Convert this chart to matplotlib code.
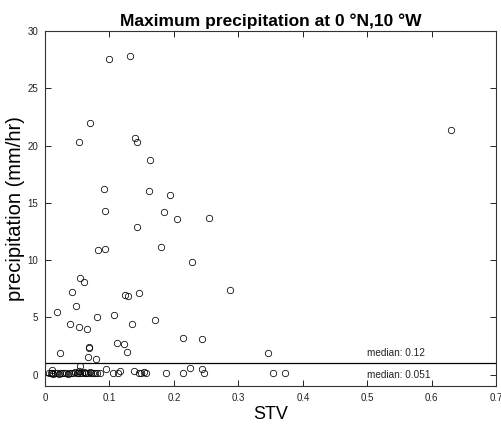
import matplotlib.pyplot as plt

# pontos acima do limiar (precip > 1 mm/hr)
stv_alto = [0.099, 0.132, 0.070, 0.053, 0.139, 0.143, 0.163, 0.091, 0.162, 0.194,
            0.093, 0.184, 0.204, 0.255, 0.629, 0.142, 0.083, 0.093, 0.180, 0.228,
            0.055, 0.061, 0.287, 0.042, 0.124, 0.129, 0.146, 0.048, 0.018, 0.081,
            0.107, 0.170, 0.039, 0.053, 0.065, 0.135, 0.214, 0.243, 0.112, 0.123,
            0.068, 0.069, 0.127, 0.024, 0.346, 0.066, 0.079]
prec_alto = [27.6, 27.8, 22.0, 20.3, 20.7, 20.3, 18.7, 16.2, 16.0, 15.7,
             14.3, 14.2, 13.6, 13.7, 21.35, 12.86, 10.86, 10.95, 11.1, 9.8,
             8.45, 8.07, 7.38, 7.2, 6.95, 6.86, 7.15, 6.0, 5.47, 5.03,
             5.2, 4.77, 4.42, 4.13, 3.99, 4.37, 3.17, 3.06, 2.77, 2.69,
             2.43, 2.34, 1.99, 1.87, 1.9, 1.52, 1.38]

# pontos abaixo do limiar
stv_baixo = [0.006, 0.009, 0.011, 0.013, 0.016, 0.019, 0.021, 0.024, 0.027, 0.030,
             0.033, 0.036, 0.038, 0.041, 0.044, 0.046, 0.049, 0.051, 0.053, 0.055,
             0.058, 0.060, 0.062, 0.064, 0.067, 0.070, 0.072, 0.075, 0.078, 0.081,
             0.085, 0.055, 0.094, 0.106, 0.114, 0.117, 0.138, 0.146, 0.149, 0.154,
             0.157, 0.187, 0.214, 0.225, 0.244, 0.247, 0.353, 0.373, 0.011]
prec_baixo = [0.1, 0.15, 0.1, 0.05, 0.12, 0.1, 0.08, 0.15, 0.1, 0.12,
              0.1, 0.05, 0.15, 0.1, 0.12, 0.2, 0.1, 0.15, 0.3, 0.12,
              0.1, 0.25, 0.15, 0.1, 0.12, 0.2, 0.1, 0.15, 0.1, 0.12,
              0.1, 0.71, 0.45, 0.16, 0.1, 0.34, 0.34, 0.1, 0.1, 0.25,
              0.1, 0.1, 0.1, 0.57, 0.45, 0.1, 0.1, 0.1, 0.4]

limiar = 1.0
txt_alto = "median: 0.12"
txt_baixo = "median: 0.051"

plt.rcParams["font.family"] = ["Liberation Sans", "DejaVu Sans"]

fig = plt.figure(figsize=(5.02, 4.26), dpi=100)
ax = fig.add_axes([0.0896, 0.094, 0.899, 0.833])

ax.plot(stv_alto + stv_baixo, prec_alto + prec_baixo, "o", mfc="none", mec="black",
        ms=4.6, mew=0.55)
ax.axhline(limiar, color="black", lw=0.9)
ax.text(0.5, 1.45, txt_alto, fontsize=7.2, va="bottom", ha="left", color="#222222")
ax.text(0.5, -0.05, txt_baixo, fontsize=7.2, va="center", ha="left", color="#222222")

ax.set_xlim(0, 0.7)
ax.set_ylim(-1, 30)
ax.set_xticks([0, 0.1, 0.2, 0.3, 0.4, 0.5, 0.6, 0.7])
ax.set_xticklabels(["0", "0.1", "0.2", "0.3", "0.4", "0.5", "0.6", "0.7"])
ax.set_yticks([0, 5, 10, 15, 20, 25, 30])
ax.tick_params(direction="in", top=True, right=True, length=4, width=0.6,
               labelsize=7, labelcolor="#222222", pad=5)
for s in ax.spines.values():
    s.set_linewidth(0.8)
    s.set_color("#333333")

ax.set_xlabel("STV", fontsize=13, labelpad=2)
ax.set_ylabel("precipitation (mm/hr)", fontsize=14.5, labelpad=2)
ax.set_title("Maximum precipitation at 0 \u00b0N,10 \u00b0W", fontsize=12.5, fontweight="bold", pad=4)

fig.savefig("out.png", dpi=100)
